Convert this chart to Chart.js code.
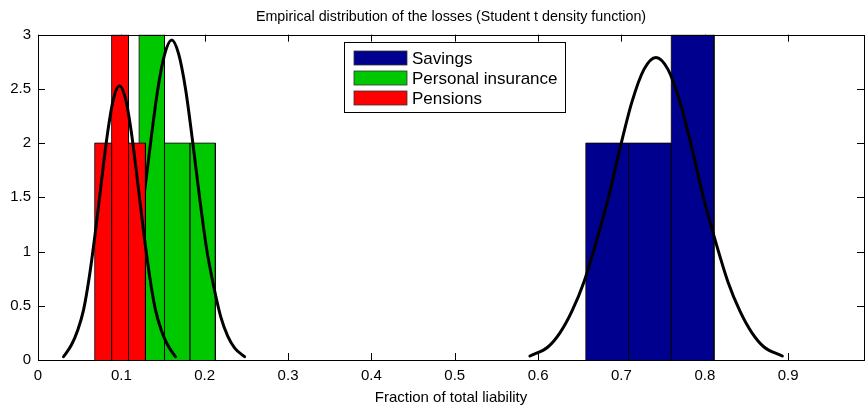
<!DOCTYPE html>
<html>
<head>
<meta charset="utf-8">
<script src="https://cdn.jsdelivr.net/npm/chart.js@4.4.1/dist/chart.umd.min.js"></script>
<style>
  html, body { margin: 0; padding: 0; background: #ffffff; }
  #wrap { width: 865px; height: 406px; }
</style>
</head>
<body>
<div id="wrap"><canvas id="c" width="865" height="406"></canvas></div>
<script>
// Histogram bins: bin edges and sample counts per line of business
const savingsEdges   = [0.6572, 0.7085, 0.7598, 0.8111];
const savingsCounts  = [2, 2, 3];
const insuranceEdges  = [0.1213, 0.1518, 0.1823, 0.2128];
const insuranceCounts = [3, 2, 2];
const pensionsEdges  = [0.0680, 0.0883, 0.1086, 0.1289];
const pensionsCounts = [2, 3, 2];

// Fitted Student t densities, scaled to the histogram counts
const savingsFitX = [0.5902, 0.6118, 0.6262, 0.6406, 0.6550, 0.6694, 0.6838, 0.6982, 0.7126, 0.7270, 0.7414,
                     0.7558, 0.7702, 0.7846, 0.7990, 0.8134, 0.8278, 0.8422, 0.8566, 0.8710, 0.8930];
const savingsFitY = [0.037, 0.12, 0.25, 0.45, 0.72, 1.08, 1.48, 1.95, 2.38, 2.68, 2.79,
                     2.68, 2.38, 1.95, 1.48, 1.08, 0.72, 0.45, 0.25, 0.12, 0.037];
const insuranceFitX = [0.0724, 0.0848, 0.0932, 0.1016, 0.1100, 0.1184, 0.1268, 0.1352, 0.1436, 0.1520, 0.1604,
                       0.1688, 0.1772, 0.1856, 0.1940, 0.2024, 0.2108, 0.2192, 0.2276, 0.2360, 0.2478];
const insuranceFitY = [0.03, 0.11, 0.22, 0.40, 0.68, 1.02, 1.49, 2.01, 2.49, 2.82, 2.95,
                       2.82, 2.49, 2.01, 1.49, 1.02, 0.68, 0.40, 0.22, 0.11, 0.03];
const pensionsFitX = [0.0306, 0.0402, 0.0474, 0.0546, 0.0618, 0.0690, 0.0762, 0.0834, 0.0906, 0.0978,
                      0.1050, 0.1122, 0.1194, 0.1266, 0.1338, 0.1410, 0.1482, 0.1554, 0.1650];
const pensionsFitY = [0.03, 0.14, 0.27, 0.46, 0.78, 1.19, 1.65, 2.09, 2.41, 2.53,
                      2.41, 2.09, 1.65, 1.19, 0.78, 0.46, 0.27, 0.14, 0.03];

const seriesNames  = ['Savings', 'Personal insurance', 'Pensions'];
const seriesColors = ['#00008f', '#00c800', '#ff0000'];

const xTickValues = [0, 0.1, 0.2, 0.3, 0.4, 0.5, 0.6, 0.7, 0.8, 0.9];
const xTickLabels = ['0', '0.1', '0.2', '0.3', '0.4', '0.5', '0.6', '0.7', '0.8', '0.9'];
const yTickValues = [0, 0.5, 1, 1.5, 2, 2.5, 3];
const yTickLabels = ['0', '0.5', '1', '1.5', '2', '2.5', '3'];

const FONT = "'Liberation Sans', Arial, Helvetica, sans-serif";

// Outline of adjacent histogram bars as one path along the baseline
function barOutline(edges, counts) {
  const pts = [{ x: edges[0], y: 0 }];
  counts.forEach((c, i) => {
    pts.push({ x: edges[i], y: c }, { x: edges[i + 1], y: c }, { x: edges[i + 1], y: 0 });
  });
  return pts;
}
function curvePoints(xs, ys) {
  return xs.map((x, i) => ({ x: x, y: ys[i] }));
}
function barsDataset(name, color, edges, counts, order) {
  return {
    label: name, legendColor: color, data: barOutline(edges, counts),
    backgroundColor: color, borderColor: '#000', borderWidth: 0.8,
    fill: 'origin', pointRadius: 0, tension: 0, order: order
  };
}
function curveDataset(xs, ys, order) {
  return {
    label: '', data: curvePoints(xs, ys), borderColor: '#000', borderWidth: 3,
    fill: false, pointRadius: 0, cubicInterpolationMode: 'monotone', order: order,
    borderCapStyle: 'round', borderJoinStyle: 'round'
  };
}

// Inward ticks on all four sides (under the data) and the axes box (over it)
const axesBox = {
  id: 'axesBox',
  beforeDatasetsDraw(chart, args, opts) {
    const { ctx, chartArea: a, scales: { x, y } } = chart;
    const tl = opts.tickLength;
    ctx.save();
    ctx.strokeStyle = '#000';
    ctx.lineWidth = 1;
    ctx.beginPath();
    x.ticks.forEach(t => {
      const px = Math.round(x.getPixelForValue(t.value)) + 0.5;
      ctx.moveTo(px, a.bottom); ctx.lineTo(px, a.bottom - tl);
      ctx.moveTo(px, a.top); ctx.lineTo(px, a.top + tl);
    });
    y.ticks.forEach(t => {
      const py = Math.round(y.getPixelForValue(t.value)) + 0.5;
      ctx.moveTo(a.left, py); ctx.lineTo(a.left + tl, py);
      ctx.moveTo(a.right, py); ctx.lineTo(a.right - tl, py);
    });
    ctx.stroke();
    ctx.restore();
  },
  afterDatasetsDraw(chart) {
    const { ctx, chartArea: a } = chart;
    ctx.save();
    ctx.strokeStyle = '#000';
    ctx.lineWidth = 1;
    ctx.strokeRect(Math.round(a.left) + 0.5, Math.round(a.top) + 0.5,
                   Math.round(a.right - a.left), Math.round(a.bottom - a.top));
    ctx.restore();
  }
};

// Boxed legend inside the plot area, one row per series
const boxLegend = {
  id: 'boxLegend',
  afterDraw(chart, args, o) {
    const { ctx } = chart;
    ctx.save();
    ctx.fillStyle = '#fff';
    ctx.fillRect(o.left, o.top, o.width, o.height);
    ctx.strokeStyle = '#000';
    ctx.lineWidth = 1;
    ctx.strokeRect(o.left + 0.5, o.top + 0.5, o.width, o.height);
    ctx.font = o.fontSize + 'px ' + FONT;
    ctx.textBaseline = 'middle';
    ctx.textAlign = 'left';
    seriesNames.forEach((name, i) => {
      const cy = o.firstRow + i * o.rowGap;
      ctx.fillStyle = seriesColors[i];
      ctx.fillRect(o.patchLeft, cy - o.patchH / 2, o.patchW, o.patchH);
      ctx.strokeStyle = '#333';
      ctx.lineWidth = 0.8;
      ctx.strokeRect(o.patchLeft, cy - o.patchH / 2, o.patchW, o.patchH);
      ctx.fillStyle = '#000';
      ctx.fillText(name, o.textLeft, cy + 1);
    });
    ctx.restore();
  }
};

// Later series are drawn on top of earlier ones (lower order = drawn last)
const datasets = [
  curveDataset(pensionsFitX, pensionsFitY, 1),
  barsDataset(seriesNames[2], seriesColors[2], pensionsEdges, pensionsCounts, 2),
  curveDataset(insuranceFitX, insuranceFitY, 3),
  barsDataset(seriesNames[1], seriesColors[1], insuranceEdges, insuranceCounts, 4),
  curveDataset(savingsFitX, savingsFitY, 5),
  barsDataset(seriesNames[0], seriesColors[0], savingsEdges, savingsCounts, 6)
];

new Chart(document.getElementById('c'), {
  type: 'line',
  data: { datasets: datasets },
  options: {
    responsive: false,
    animation: false,
    devicePixelRatio: 1,
    layout: { padding: { left: 0, right: 1, top: 0, bottom: 0 } },
    plugins: {
      legend: { display: false },
      tooltip: { enabled: false },
      title: {
        display: true,
        fullSize: false,
        text: 'Empirical distribution of the losses (Student t density function)',
        color: '#000',
        font: { family: FONT, size: 14.3, weight: 'normal' },
        padding: { top: 8, bottom: 9.5 }
      },
      axesBox: { tickLength: 7 },
      boxLegend: {
        left: 344, top: 42, width: 221, height: 70,
        patchLeft: 354, patchW: 53, patchH: 14, textLeft: 412,
        firstRow: 58, rowGap: 20, fontSize: 17
      }
    },
    scales: {
      x: {
        type: 'linear', min: 0, max: 0.991,
        grid: { display: false, drawTicks: false },
        border: { display: false },
        afterBuildTicks: s => { s.ticks = xTickValues.map(v => ({ value: v })); },
        afterFit: s => { s.height = 46; },
        ticks: {
          color: '#000', font: { family: FONT, size: 15 }, padding: 7,
          maxRotation: 0, autoSkip: false, includeBounds: false,
          callback: (v, i) => xTickLabels[i]
        },
        title: {
          display: true, text: 'Fraction of total liability', color: '#000',
          font: { family: FONT, size: 15 }, padding: { top: 0, bottom: -1 }
        }
      },
      y: {
        type: 'linear', min: 0, max: 3,
        grid: { display: false, drawTicks: false },
        border: { display: false },
        afterBuildTicks: s => { s.ticks = yTickValues.map(v => ({ value: v })); },
        afterFit: s => { s.width = 38; },
        ticks: {
          color: '#000', font: { family: FONT, size: 15 }, padding: 7,
          autoSkip: false, includeBounds: false,
          callback: (v, i) => yTickLabels[i]
        }
      }
    }
  },
  plugins: [axesBox, boxLegend]
});
</script>
</body>
</html>
